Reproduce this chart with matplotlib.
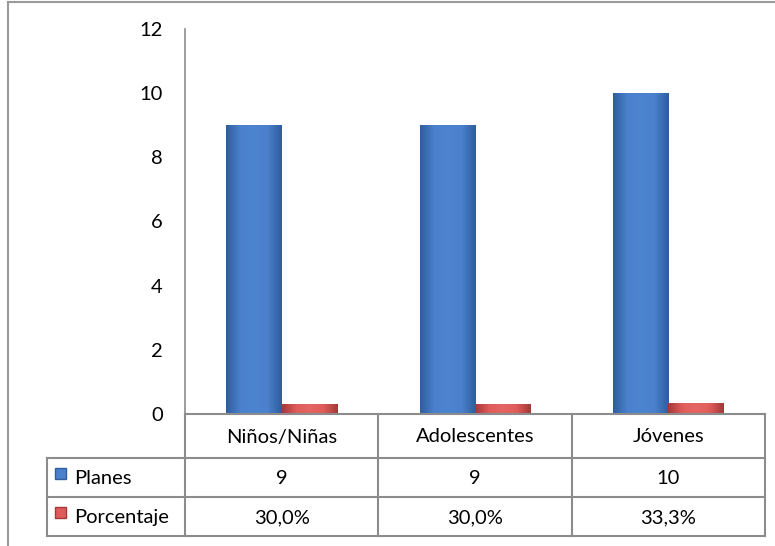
import numpy as np
import matplotlib
matplotlib.use("Agg")
import matplotlib.pyplot as plt
import matplotlib.colors as mcolors
from matplotlib.lines import Line2D
from matplotlib.patches import Rectangle

plt.rcParams["font.family"] = ["Lato", "DejaVu Sans"]

categories = ["Niños/Niñas", "Adolescentes", "Jóvenes"]
planes = [9, 9, 10]
porcentaje = [0.300, 0.300, 0.333]
planes_labels = ["9", "9", "10"]
porcentaje_labels = ["30,0%", "30,0%", "33,3%"]
series_names = ["Planes", "Porcentaje"]
yticks = [0, 2, 4, 6, 8, 10, 12]

W, H = 775, 546
fig = plt.figure(figsize=(W / 100, H / 100), dpi=100)

# plot area in pixels
px_left, px_right, px_top, px_bottom = 185, 765, 29, 414
ax = fig.add_axes([px_left / W, 1 - px_bottom / H,
                   (px_right - px_left) / W, (px_bottom - px_top) / H])

n = len(categories)
x = np.arange(n)
bw = 1 / 3.5

blue_grad = mcolors.LinearSegmentedColormap.from_list(
    "b", ["#2f5e9e", "#4a80cc", "#4d84d0", "#4a80cc", "#2f5e9e"])
red_grad = mcolors.LinearSegmentedColormap.from_list(
    "r", ["#a33a38", "#e05c5a", "#e46664", "#e05c5a", "#a33a38"])

b1 = ax.bar(x - bw / 2, planes, bw, color="#4a80cc", edgecolor="none", zorder=2)
b2 = ax.bar(x + bw / 2, porcentaje, bw, color="#e05c5a", edgecolor="none", zorder=2)

grad = np.linspace(0, 1, 64).reshape(1, -1)
for bars, cm in ((b1, blue_grad), (b2, red_grad)):
    for r in bars:
        x0, y0 = r.get_x(), r.get_y()
        im = ax.imshow(grad, cmap=cm, aspect="auto", zorder=3,
                       extent=[x0, x0 + r.get_width(), y0, y0 + r.get_height()])
        im.set_clip_path(r)

fs = 14.5
ax.set_xlim(-0.5, n - 0.5)
ax.set_ylim(0, 12)
ax.set_yticks(yticks)
ax.set_yticklabels([str(t) for t in yticks], fontsize=fs)
ax.tick_params(axis="y", length=0, pad=16)
ax.set_xticks([])
for s in ("top", "right", "bottom"):
    ax.spines[s].set_visible(False)
ax.spines["left"].set_color("#8c8c8c")
ax.spines["left"].set_linewidth(1.2)

# data table below the plot, in pixel coords
ov = fig.add_axes([0, 0, 1, 1], facecolor="none")
ov.set_xlim(0, W)
ov.set_ylim(H, 0)
ov.axis("off")

gc = "#8c8c8c"
lw = 1.5
col_edges = np.linspace(px_left, px_right, n + 1)
row_edges = [px_bottom, 458, 497, 536]
leg_left = 47

def hline(x0, x1, y):
    ov.add_line(Line2D([x0, x1], [y, y], color=gc, lw=lw))

def vline(xv, y0, y1):
    ov.add_line(Line2D([xv, xv], [y0, y1], color=gc, lw=lw))

hline(px_left, px_right, row_edges[0])
for y in row_edges[1:]:
    hline(leg_left, px_right, y)
for xe in col_edges:
    vline(xe, row_edges[0], row_edges[-1])
vline(leg_left, row_edges[1], row_edges[-1])

for i, cat in enumerate(categories):
    cx = (col_edges[i] + col_edges[i + 1]) / 2
    ov.text(cx, (row_edges[0] + row_edges[1]) / 2 + 1, cat, ha="center", va="center", fontsize=fs)
    ov.text(cx, (row_edges[1] + row_edges[2]) / 2 + 1, planes_labels[i], ha="center", va="center", fontsize=fs)
    ov.text(cx, (row_edges[2] + row_edges[3]) / 2 + 1, porcentaje_labels[i], ha="center", va="center", fontsize=fs)

for k, (name, c, ec) in enumerate(zip(series_names, ["#4a80cc", "#e05c5a"], ["#2f5e9e", "#a33a38"])):
    yc = (row_edges[k + 1] + row_edges[k + 2]) / 2
    ov.add_patch(Rectangle((leg_left + 8, yc - 10), 11, 11, facecolor=c, edgecolor=ec, lw=1))
    ov.text(leg_left + 27, yc + 1, name, ha="left", va="center", fontsize=fs)

# chart frame (cropped)
ov.add_line(Line2D([8, W], [2, 2], color="#9a9a9a", lw=1.5))
ov.add_line(Line2D([8, 8], [2, H], color="#9a9a9a", lw=1.5))

fig.savefig("out.png", dpi=100)
